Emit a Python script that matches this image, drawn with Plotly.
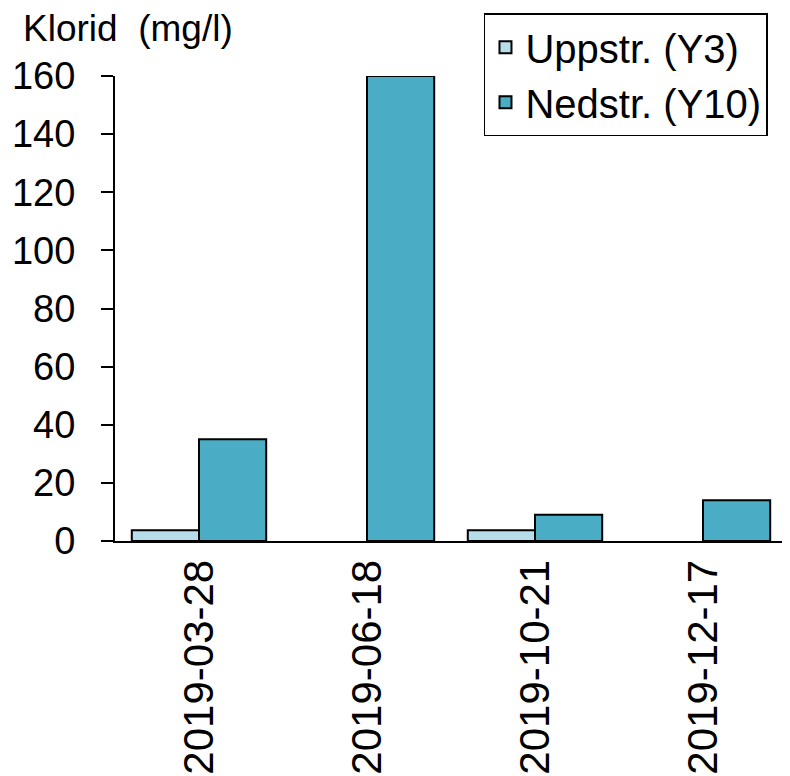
import plotly.graph_objects as go

# Sampling dates (x categories)
dates = ["2019-03-28", "2019-06-18", "2019-10-21", "2019-12-17"]

# Chloride concentrations, mg/l
uppstr_y3 = [3.7, None, 3.7, None]
nedstr_y10 = [35, 160, 9, 14]

y_ticks = [0, 20, 40, 60, 80, 100, 120, 140, 160]

FONT = "Liberation Sans, Arial, sans-serif"

fig = go.Figure()
fig.add_trace(go.Bar(
    x=dates, y=uppstr_y3, name="Uppstr. (Y3)",
    marker=dict(color="#B7DEE8", line=dict(color="black", width=2)),
))
fig.add_trace(go.Bar(
    x=dates, y=nedstr_y10, name="Nedstr. (Y10)",
    marker=dict(color="#4BACC6", line=dict(color="black", width=2)),
))

fig.update_layout(
    width=790, height=776,
    margin=dict(l=107, r=11, t=68, b=243, autoexpand=False),
    paper_bgcolor="white", plot_bgcolor="white",
    font=dict(family=FONT, size=38, color="black"),
    barmode="group", bargap=0.2, bargroupgap=0,
    showlegend=True,
    legend=dict(
        x=0.9717, y=1.135, xanchor="right", yanchor="top",
        bgcolor="white", bordercolor="black", borderwidth=1.5,
        font=dict(family=FONT, size=40, color="black"),
        tracegroupgap=0,
    ),
    xaxis=dict(
        type="category", tickangle=-90, showline=True, linecolor="black",
        linewidth=2, ticks="", showgrid=False, zeroline=False,
        tickfont=dict(family=FONT, size=42),
    ),
    yaxis=dict(
        range=[0, 160], tickvals=y_ticks, showline=True, linecolor="black",
        linewidth=2, ticks="outside", ticklen=12, tickwidth=2, tickcolor="black",
        showgrid=False, zeroline=False, ticklabelstandoff=18,
        tickfont=dict(family=FONT, size=38),
    ),
    annotations=[dict(
        text="Klorid\u00a0 (mg/l)", xref="paper", yref="paper",
        x=-0.140, y=1.102, xanchor="left", yanchor="middle",
        showarrow=False, font=dict(family=FONT, size=37, color="black"),
    )],
)

fig.write_html("out.html")
